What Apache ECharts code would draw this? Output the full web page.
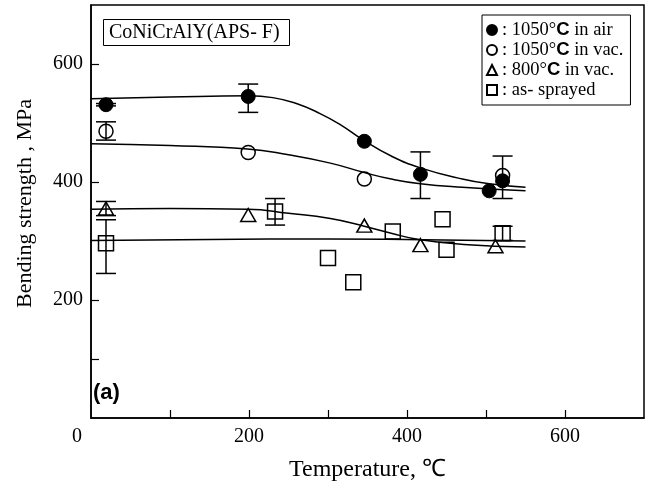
<!DOCTYPE html>
<html><head><meta charset="utf-8">
<script src="https://cdn.jsdelivr.net/npm/echarts@6/dist/echarts.min.js"></script>
<style>html,body{margin:0;padding:0;background:#fff}#c{width:649px;height:487px}</style>
</head><body><div id="c"></div>
<script>
const seriesNames = ['1050℃ in air', '1050℃ in vac.', '800℃ in vac.', 'as- sprayed'];
const xTickValues = [100, 200, 300, 400, 500, 600];
const xLabelValues = [0, 200, 400, 600];
const yTickValues = [100, 200, 400, 600];
const yLabelValues = [200, 400, 600];

// measured points
const airX = [19, 199, 346, 417, 504, 521];
const airY = [531, 545, 469, 413, 385, 402];
const vacX = [19, 199, 346, 521];
const vacY = [486, 450, 405, 411];
const v800X = [19, 199, 346, 417, 512];
const v800Y = [355, 344, 326, 293, 291];
const asX = [19, 233, 300, 332, 382, 445, 450, 521];
const asY = [296, 350, 271, 230, 316, 337, 285, 313];

// error bars: [x, low, high]
const airErr = [[19, 529, 533], [199, 518, 566], [417, 372, 451]];
const vacErr = [[19, 471, 502], [521, 372, 444]];
const v800Err = [[19, 343, 367]];
const asErr = [[19, 245, 336], [233, 327, 372], [521, 301, 325]];

// fitted curves
const airFitX = [0, 100, 200, 230, 260, 290, 316, 346, 380, 417, 470, 504, 550];
const airFitY = [541, 544, 546, 543, 533, 516, 497, 470, 444, 424, 405, 397, 391];
const vacFitX = [0, 100, 198, 250, 303, 346, 380, 417, 470, 550];
const vacFitY = [465, 462, 456, 446, 432, 416, 405, 397, 391, 385];
const v800FitX = [0, 100, 198, 250, 303, 346, 380, 417, 472, 550];
const v800FitY = [354, 355, 354, 347, 338, 325, 313, 302, 294, 290];
const asFitX = [0, 150, 300, 420, 550];
const asFitY = [301, 302.5, 303.5, 302, 300];

const zip = (a, b) => a.map((v, i) => [v, b[i]]);
const serif = 'Liberation Serif';

function errRender(params, api) {
  const x = api.value(0), lo = api.value(1), hi = api.value(2);
  const pLo = api.coord([x, lo]), pHi = api.coord([x, hi]);
  const w = 10;
  const style = { stroke: '#000', lineWidth: 1.5 };
  return { type: 'group', children: [
    { type: 'line', shape: { x1: pLo[0], y1: pLo[1], x2: pHi[0], y2: pHi[1] }, style },
    { type: 'line', shape: { x1: pLo[0] - w, y1: pLo[1], x2: pLo[0] + w, y2: pLo[1] }, style },
    { type: 'line', shape: { x1: pHi[0] - w, y1: pHi[1], x2: pHi[0] + w, y2: pHi[1] }, style }
  ]};
}
function errSeries(d) {
  return { type: 'custom', renderItem: errRender, data: d, encode: { x: 0, y: [1, 2] }, z: 3, silent: true };
}
function fitSeries(x, y) {
  return { type: 'line', data: zip(x, y), smooth: 0.5, showSymbol: false, symbol: 'none',
    lineStyle: { color: '#000', width: 1.5 }, z: 2, silent: true };
}
const hollow = { color: 'rgba(0,0,0,0)', borderColor: '#000', borderWidth: 1.5, opacity: 1 };
const degC = s => s.replace('℃', '°{c|C}');

const chart = echarts.init(document.getElementById('c'), null, { renderer: 'canvas' });
chart.setOption({
  animation: false,
  backgroundColor: '#fff',
  title: [
    { text: 'CoNiCrAlY(APS- F)', left: 103, top: 19, padding: [4, 10, 3, 6], borderColor: '#000', borderWidth: 1,
      textStyle: { fontFamily: serif, fontSize: 20, fontWeight: 'normal', color: '#000' } },
    { text: '(a)', left: 93, top: 382, padding: 0,
      textStyle: { fontFamily: 'Liberation Sans', fontSize: 22, fontWeight: 'bold', color: '#000' } }
  ],
  legend: {
    data: seriesNames, orient: 'vertical', left: 482, top: 15,
    padding: [5, 7, 5, 4], itemGap: 0, itemWidth: 10, itemHeight: 10,
    borderColor: '#000', borderWidth: 1, selectedMode: false,
    formatter: n => ': ' + degC(n),
    textStyle: { fontFamily: serif, fontSize: 18.5, color: '#000', lineHeight: 20,
      rich: { c: { fontFamily: 'Liberation Sans', fontWeight: 'bold', fontSize: 18.5, color: '#000', lineHeight: 20 } } }
  },
  grid: { left: 91, right: 5, top: 5, bottom: 65, show: true, borderColor: '#000', borderWidth: 1.5 },
  xAxis: {
    type: 'value', min: 0, max: 700, interval: 100,
    name: 'Temperature, ℃', nameLocation: 'middle', nameGap: 40,
    nameTextStyle: { fontFamily: serif, fontSize: 24, color: '#000' },
    axisLine: { lineStyle: { color: '#000', width: 1.5 } },
    axisTick: { inside: true, length: 8, customValues: xTickValues, lineStyle: { color: '#000', width: 1.2 } },
    axisLabel: { customValues: xLabelValues, margin: 9, fontFamily: serif, fontSize: 20, color: '#000',
      formatter: v => v === 0 ? '{z|0}' : String(v),
      rich: { z: { fontFamily: serif, fontSize: 20, color: '#000', padding: [0, 28, 0, 0] } } },
    splitLine: { show: false }
  },
  yAxis: {
    type: 'value', min: 0, max: 700, interval: 100,
    name: 'Bending strength , MPa', nameLocation: 'middle', nameGap: 55,
    nameTextStyle: { fontFamily: serif, fontSize: 22, color: '#000', padding: [0, 0, 0, 16] },
    axisLine: { lineStyle: { color: '#000', width: 1.5 } },
    axisTick: { inside: true, length: 8, customValues: yTickValues, lineStyle: { color: '#000', width: 1.2 } },
    axisLabel: { customValues: yLabelValues, margin: 8, fontFamily: serif, fontSize: 20, color: '#000' },
    splitLine: { show: false }
  },
  series: [
    fitSeries(airFitX, airFitY), fitSeries(vacFitX, vacFitY), fitSeries(v800FitX, v800FitY), fitSeries(asFitX, asFitY),
    errSeries(airErr), errSeries(vacErr), errSeries(v800Err), errSeries(asErr),
    { name: seriesNames[0], type: 'scatter', data: zip(airX, airY), symbol: 'circle', symbolSize: 14,
      itemStyle: { color: '#000', borderColor: '#000', borderWidth: 1, opacity: 1 }, z: 4 },
    { name: seriesNames[1], type: 'scatter', data: zip(vacX, vacY), symbol: 'circle', symbolSize: 14,
      itemStyle: hollow, z: 4 },
    { name: seriesNames[2], type: 'scatter', data: zip(v800X, v800Y), symbol: 'triangle', symbolSize: [15, 13],
      itemStyle: hollow, z: 4 },
    { name: seriesNames[3], type: 'scatter', data: zip(asX, asY), symbol: 'rect', symbolSize: 15,
      itemStyle: hollow, z: 4 }
  ]
});
</script></body></html>
